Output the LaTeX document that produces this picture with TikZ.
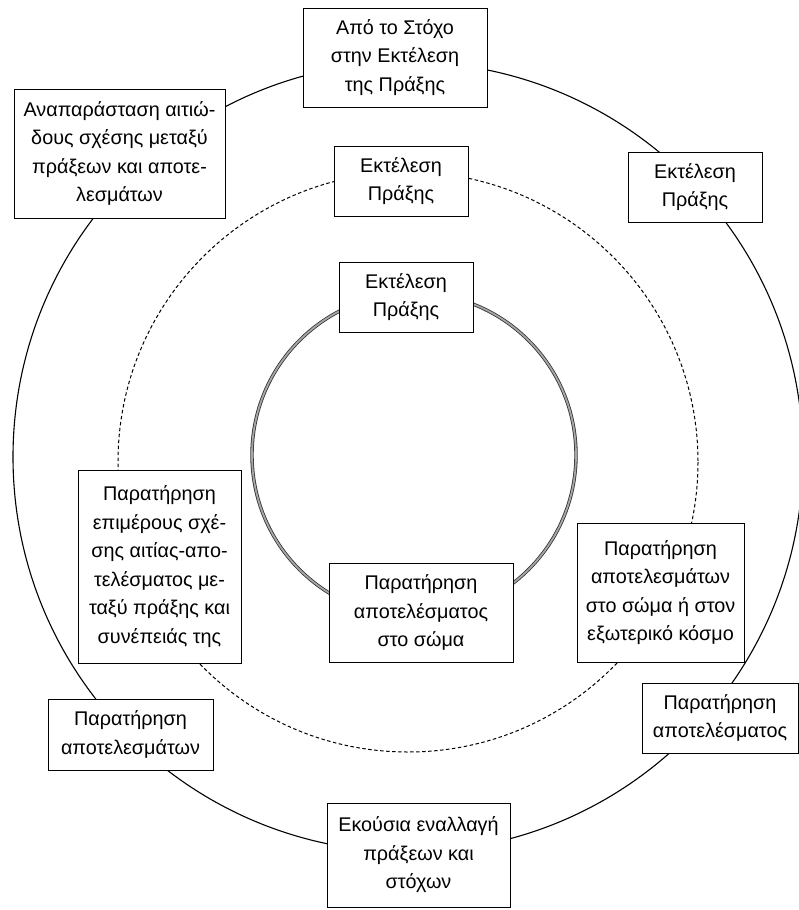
\documentclass[tikz,border=0pt]{standalone}
\usepackage{fontspec}
\setmainfont{Liberation Sans}
\begin{document}
\begin{tikzpicture}[x=1pt,y=-1pt,
  box/.style={draw, line width=0.9pt, fill=white, align=center, inner sep=0pt,
    font=\fontsize{19.8}{28.5}\selectfont},
  outerring/.style={line width=1.1pt},
  midring/.style={line width=1pt, dash pattern=on 3.5pt off 2.5pt},
  innerring/.style={draw=black!80, double=black!35, line width=0.8pt, double distance=1.8pt}
]
\useasboundingbox (0,0) rectangle (799,910);
% rings
\draw[outerring] (408,457) circle[radius=395];
\draw[midring] (408,462) circle[radius=290];
\draw[innerring] (414,455) circle[radius=162];
% outer ring boxes
\node[box, minimum width=184pt, minimum height=99pt] (goal) at (395,57.5) {Από το Στόχο\\στην Εκτέλεση\\της Πράξης};
\node[box, minimum width=211pt, minimum height=129pt] (repr) at (119.5,153.5) {Αναπαράσταση αιτιώ-\\δους σχέσης μεταξύ\\πράξεων και αποτε-\\λεσμάτων};
\node[box, minimum width=134pt, minimum height=70pt] (execO) at (695,187) {Εκτέλεση\\Πράξης};
\node[box, minimum width=156pt, minimum height=70pt] (obsO) at (720,718) {Παρατήρηση\\αποτελέσματος};
\node[box, minimum width=165pt, minimum height=71pt] (obsL) at (130.5,734.5) {Παρατήρηση\\αποτελεσμάτων};
\node[box, minimum width=183pt, minimum height=104pt] (alt) at (418.5,855) {Εκούσια εναλλαγή\\πράξεων και\\στόχων};
% middle ring boxes
\node[box, minimum width=134pt, minimum height=70pt] (execM) at (401,181) {Εκτέλεση\\Πράξης};
\node[box, minimum width=163pt, minimum height=193pt] (part) at (159.5,566.5) {Παρατήρηση\\επιμέρους σχέ-\\σης αιτίας-απο-\\τελέσματος με-\\ταξύ πράξης και\\συνέπειάς της};
\node[box, minimum width=167pt, minimum height=139pt] (obsM) at (660.5,592.5) {Παρατήρηση\\αποτελεσμάτων\\στο σώμα ή στον\\εξωτερικό κόσμο};
% inner ring boxes
\node[box, minimum width=134pt, minimum height=70pt] (execI) at (406,297) {Εκτέλεση\\Πράξης};
\node[box, minimum width=184pt, minimum height=99pt] (obsI) at (421,612.5) {Παρατήρηση\\αποτελέσματος\\στο σώμα};
\end{tikzpicture}
\end{document}
